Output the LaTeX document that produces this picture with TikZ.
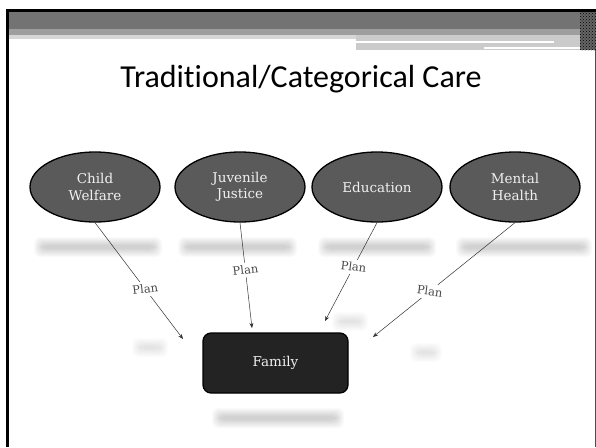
\documentclass[tikz,border=0pt]{standalone}
\usepackage{fontspec}
\setmainfont{DejaVu Serif}
\newfontfamily\titlefont{Carlito}
\usetikzlibrary{arrows.meta,shapes.geometric,patterns}
\definecolor{bardark}{HTML}{737373}
\definecolor{barmid}{HTML}{9E9E9E}
\definecolor{barlight}{HTML}{D6D6D6}
\definecolor{ellfill}{HTML}{5A5A5A}
\definecolor{boxfill}{HTML}{232323}
\definecolor{txtlight}{HTML}{F0F0F0}
\definecolor{plangrey}{HTML}{4A4A4A}
\newcommand{\softblob}[5]{%
  \foreach \k in {0,1,...,8}{%
    \fill[black,opacity=#5,rounded corners=6pt] (#1-\k,#2-\k) rectangle (#3+\k,#4+\k);}}
\tikzset{
  catnode/.style={ellipse,draw=black,line width=1.3pt,fill=ellfill,
    minimum width=130pt,minimum height=70pt,inner sep=0pt,align=center,
    text=txtlight,font=\fontsize{13.5}{16.5}\selectfont},
  familynode/.style={rectangle,rounded corners=8pt,draw=black,line width=1.2pt,
    fill=boxfill,minimum width=145pt,minimum height=60pt,text=txtlight,
    font=\fontsize{13.5}{16}\selectfont},
  plannode/.style={fill=white,inner sep=3pt,text=plangrey,
    font=\fontsize{11.5}{13}\selectfont},
  conn/.style={draw=black!80,line width=0.5pt,-{Stealth[length=5pt,width=4pt]}},
  titlenode/.style={font=\titlefont\fontsize{32}{38}\selectfont,text=black,anchor=base}
}
\begin{document}
\begin{tikzpicture}[x=1pt,y=-1pt]
\useasboundingbox (0,0) rectangle (596,447);
\fill[white] (0,0) rectangle (596,447);
% header bar
\fill[bardark] (9,11) rectangle (596,29);
\fill[barmid] (9,29) rectangle (596,35);
\fill[barlight] (9,35) rectangle (356,39);
\fill[barlight!95!black] (356,35) rectangle (590,50);
\draw[white,line width=1.2pt] (356,42) -- (554,42);
\draw[white,line width=1.2pt] (484,48) -- (590,48);
\fill[black!60] (580,11) rectangle (596,50);
\fill[pattern=crosshatch dots,pattern color=black] (580,11) rectangle (596,50);
% frame
\draw[black,line width=3pt] (7.5,447) -- (7.5,10) -- (596,10);
\draw[black!70,line width=1pt] (595,50) -- (595,447);
% title
\node[titlenode] (title) at (301,87) {Tradit\kern0pt ional/Categorical Care};
% shadows
\softblob{42}{245}{154}{249}{0.02}
\softblob{186}{245}{289}{249}{0.02}
\softblob{326}{245}{428}{249}{0.02}
\softblob{464}{245}{584}{249}{0.02}
\softblob{220}{416}{336}{420}{0.02}
\softblob{140}{346}{160}{349}{0.01}
\softblob{340}{320}{360}{323}{0.012}
\softblob{418}{351}{434}{354}{0.01}
% category nodes
\node[catnode] (cw) at (95,187) {Child\\Welfare};
\node[catnode] (jj) at (240,187) {Juvenile\\Justice};
\node[catnode] (ed) at (377,187) {Education};
\node[catnode] (mh) at (515,187) {Mental\\Health};
% family
\node[familynode] (fam) at (275.5,363) {Family};
% arrow ends
\coordinate (t1) at (183,339);
\coordinate (t2) at (252,328);
\coordinate (t3) at (325,321);
\coordinate (t4) at (373,337);
% connectors
\draw[conn] (cw.south) -- (t1) node[plannode,pos=0.57,rotate=7] (p1) {Plan};
\draw[conn] (jj.south) -- (t2) node[plannode,pos=0.45,rotate=7] (p2) {Plan};
\draw[conn] (ed.south) -- (t3) node[plannode,pos=0.45,rotate=-7] (p3) {Plan};
\draw[conn] (mh.south) -- (t4) node[plannode,pos=0.6,rotate=-7] (p4) {Plan};
\end{tikzpicture}
\end{document}
